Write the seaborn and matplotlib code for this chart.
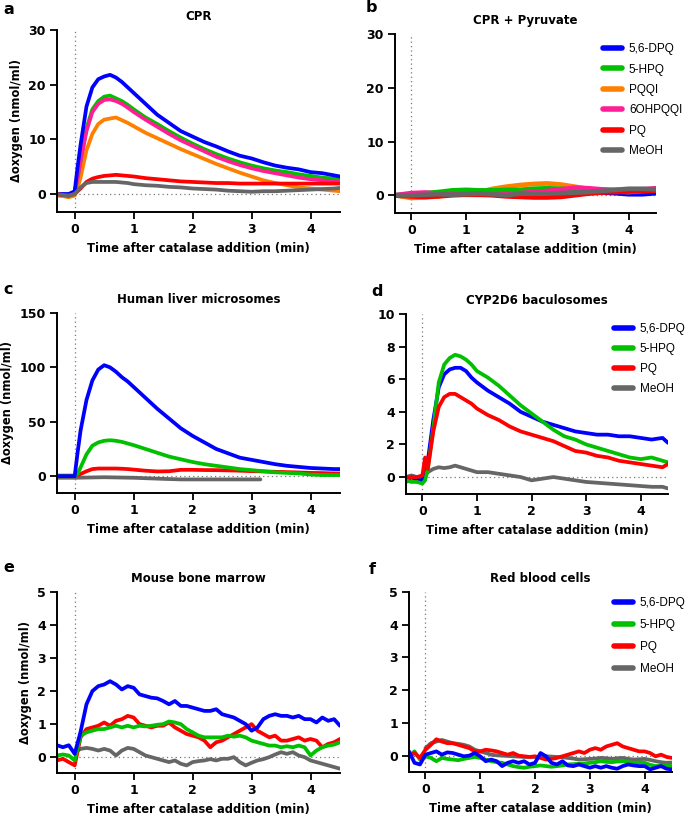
import matplotlib
matplotlib.use("Agg")
import matplotlib.pyplot as plt
from matplotlib.lines import Line2D
import seaborn as sns

# colours used in the figure
BLUE = "#0000ff"
GREEN = "#00c000"
ORANGE = "#ff8000"
PINK = "#ff1e96"
RED = "#ff0000"
GRAY = "#666666"

# time grids (min after catalase addition)
T_SMOOTH = [-0.3, -0.2, -0.1, 0.0, 0.05, 0.1, 0.2, 0.3, 0.4, 0.5, 0.6, 0.7, 0.8, 0.9, 1.0,
            1.2, 1.4, 1.6, 1.8, 2.0, 2.2, 2.4, 2.6, 2.8, 3.0, 3.2, 3.4, 3.6, 3.8, 4.0, 4.2, 4.4, 4.5]
T_B = [-0.3, 0.0, 0.25, 0.5, 0.75, 1.0, 1.25, 1.5, 1.75, 2.0, 2.25, 2.5, 2.75, 3.0, 3.25,
       3.5, 3.75, 4.0, 4.25, 4.5]
T_FINE = [-0.3, -0.2, -0.1, 0.0, 0.1, 0.2, 0.3, 0.4, 0.5, 0.6, 0.7, 0.8, 0.9, 1.0, 1.1, 1.2,
          1.3, 1.4, 1.5, 1.6, 1.7, 1.8, 1.9, 2.0, 2.1, 2.2, 2.3, 2.4, 2.5, 2.6, 2.7, 2.8, 2.9,
          3.0, 3.1, 3.2, 3.3, 3.4, 3.5, 3.6, 3.7, 3.8, 3.9, 4.0, 4.1, 4.2, 4.3, 4.4, 4.5]
T_C_MEOH = [-0.3, 0.0, 0.5, 1.0, 1.5, 1.8, 2.0, 2.5, 3.0, 3.15]

# a: CPR
a_dpq = [0, 0, 0, 0.5, 5, 9, 16, 19.5, 21, 21.5, 21.8, 21.3, 20.5, 19.5, 18.5, 16.5, 14.5, 13,
         11.5, 10.5, 9.5, 8.7, 7.8, 7.0, 6.5, 5.8, 5.2, 4.8, 4.5, 4.0, 3.8, 3.4, 3.2]
a_hpq = [0, -0.2, -0.3, 0.3, 3, 6, 12, 15.5, 17, 17.8, 18, 17.5, 17, 16.3, 15.5, 14, 12.8, 11.5,
         10.3, 9.2, 8.2, 7.3, 6.5, 5.8, 5.2, 4.7, 4.3, 4.0, 3.6, 3.3, 3.0, 2.8, 2.7]
a_pqqi = [-0.3, -0.4, -0.6, -0.3, 1, 3, 8, 11, 12.8, 13.6, 13.8, 14, 13.5, 13, 12.4, 11.2, 10.2,
          9.2, 8.2, 7.3, 6.4, 5.5, 4.7, 3.9, 3.2, 2.5, 2.0, 1.6, 1.2, 1.0, 0.8, 0.6, 0.5]
a_ohpqqi = [0, -0.2, -0.3, 0.3, 3, 6, 11.5, 15, 16.5, 17.2, 17.3, 17, 16.5, 15.8, 15.0, 13.6, 12.3,
            11.0, 9.8, 8.8, 7.8, 6.8, 6.0, 5.3, 4.7, 4.2, 3.8, 3.4, 3.0, 2.7, 2.5, 2.3, 2.2]
a_pq = [0, -0.2, -0.3, 0, 0.5, 1, 2.2, 2.8, 3.1, 3.3, 3.4, 3.5, 3.4, 3.3, 3.2, 2.9, 2.7, 2.5, 2.3,
        2.2, 2.1, 2.0, 2.0, 1.9, 1.9, 1.9, 1.9, 1.9, 1.9, 1.9, 1.9, 1.9, 1.9]
a_meoh = [0, -0.2, -0.3, 0, 0.6, 1.2, 2.0, 2.2, 2.2, 2.2, 2.2, 2.2, 2.1, 2.0, 1.8, 1.6, 1.5, 1.3,
          1.2, 1.0, 0.9, 0.8, 0.6, 0.5, 0.4, 0.5, 0.5, 0.6, 0.7, 0.8, 0.9, 1.0, 1.1]

# b: CPR + Pyruvate
b_dpq = [0, -0.3, 0, 0.1, 0.2, 0.3, 0.4, 0.5, 0.6, 0.7, 0.8, 0.8, 0.7, 0.6, 0.5, 0.5, 0.4, 0.2, 0.2, 0.4]
b_hpq = [0, 0.2, 0.4, 0.6, 0.9, 1.0, 0.9, 0.9, 1.0, 1.0, 1.2, 1.3, 1.2, 1.0, 0.9, 0.8, 0.8, 0.8, 1.0, 1.0]
b_pqqi = [0, -0.5, -0.4, -0.2, 0.2, 0.4, 0.6, 1.2, 1.6, 1.9, 2.1, 2.2, 2.0, 1.6, 1.2, 0.9, 0.7, 0.6, 0.8, 0.9]
b_ohpqqi = [0, 0.4, 0.5, 0.3, 0.2, 0.1, 0.1, 0.2, 0.3, 0.4, 0.6, 0.8, 1.1, 1.4, 1.3, 1.1, 1.0, 1.0, 1.1, 1.3]
b_pq = [0, -0.2, -0.3, -0.2, 0, 0.1, 0.1, 0, -0.2, -0.3, -0.4, -0.4, -0.3, 0, 0.3, 0.5, 0.6, 0.7, 0.8, 0.9]
b_meoh = [0, 0, 0.1, 0.2, 0.1, 0.2, 0.3, 0.2, 0, 0.3, 0.3, 0.3, 0.4, 0.5, 0.6, 0.8, 1.0, 1.2, 1.2, 1.1]

# c: Human liver microsomes
c_dpq = [0, 0, 0, 0, 22, 42, 70, 88, 98, 102, 100, 96, 91, 87, 82, 72, 62, 53, 44, 37, 31, 25, 21,
         17, 15, 13, 11, 9.5, 8.5, 7.5, 7, 6.5, 6.5]
c_hpq = [0, 0, 0, 0, 2, 8, 20, 28, 31, 32.5, 33, 32.5, 31.5, 30, 28.5, 25, 21.5, 18, 15.5, 13, 11,
         9.5, 8, 6.5, 5.5, 4.5, 3.5, 3, 2.5, 1.5, 1, 1, 1]
c_pq = [0.5, 0.5, 0.5, 0.5, 0.8, 2, 4.5, 6.5, 7, 7, 7, 7, 6.8, 6.5, 6, 5, 4.3, 4.5, 5.8, 5.8, 5.6,
        5.5, 5.3, 5, 4.6, 4.3, 4, 3.7, 3.4, 3, 2.8, 2.5, 2.5]
c_meoh = [-1.5, -1.5, -1, -1.5, -2.5, -3, -3, -3, -3, -3]

# d: CYP2D6 baculosomes
d_dpq = [-0.3, 0, -0.2, -0.2, 0.2, 1, 3.5, 5.5, 6.3, 6.6, 6.7, 6.7, 6.5, 6.1, 5.8, 5.3, 4.9, 4.5,
         4.0, 3.7, 3.4, 3.2, 3.0, 2.8, 2.7, 2.6, 2.6, 2.5, 2.5, 2.4, 2.3, 2.4, 2.1]
d_hpq = [-0.2, -0.3, -0.3, -0.4, -0.2, 0.5, 3, 5.8, 6.9, 7.3, 7.5, 7.4, 7.2, 6.9, 6.5, 6.1, 5.6,
         5.0, 4.4, 3.9, 3.4, 2.9, 2.5, 2.3, 2.0, 1.8, 1.6, 1.4, 1.2, 1.1, 1.2, 1.0, 0.9]
d_pq = [0, 0, 0, 0.1, 1.2, 0.5, 2.8, 4.3, 4.9, 5.1, 5.1, 4.9, 4.7, 4.5, 4.2, 3.8, 3.5, 3.1, 2.8,
        2.6, 2.4, 2.2, 1.9, 1.6, 1.5, 1.3, 1.2, 1.0, 0.9, 0.8, 0.7, 0.6, 0.8]
d_meoh = [0, 0.1, 0, -0.1, 0.1, 0.3, 0.5, 0.6, 0.55, 0.6, 0.7, 0.6, 0.5, 0.4, 0.3, 0.3, 0.2, 0.1,
          0, -0.2, -0.1, 0, -0.1, -0.2, -0.3, -0.35, -0.4, -0.45, -0.5, -0.55, -0.6, -0.6, -0.7]

# e: Mouse bone marrow
e_dpq = [0.36, 0.3, 0.36, 0.1, 0.77, 1.6, 2.0, 2.15, 2.2, 2.3, 2.2, 2.05, 2.15, 2.1, 1.9, 1.85,
         1.8, 1.78, 1.7, 1.6, 1.7, 1.55, 1.55, 1.5, 1.45, 1.4, 1.4, 1.45, 1.3, 1.25, 1.2, 1.1,
         1.0, 0.8, 0.9, 1.15, 1.25, 1.3, 1.25, 1.25, 1.2, 1.25, 1.15, 1.15, 1.05, 1.2, 1.1, 1.15, 0.95]
e_hpq = [0.05, 0.08, 0.05, -0.1, 0.65, 0.75, 0.8, 0.85, 0.85, 0.9, 0.95, 0.9, 0.95, 0.9, 0.95,
         0.93, 0.95, 0.98, 1.0, 1.08, 1.05, 1.0, 0.85, 0.75, 0.65, 0.6, 0.6, 0.6, 0.6, 0.65, 0.62,
         0.65, 0.6, 0.5, 0.45, 0.4, 0.35, 0.35, 0.3, 0.33, 0.3, 0.35, 0.3, 0.05, 0.2, 0.3, 0.35, 0.38, 0.45]
e_pq = [-0.1, -0.05, -0.15, -0.25, 0.6, 0.85, 0.9, 0.95, 1.05, 0.95, 1.1, 1.15, 1.25, 1.2, 1.0,
        0.95, 0.9, 0.95, 0.95, 1.05, 0.9, 0.8, 0.7, 0.65, 0.6, 0.5, 0.3, 0.45, 0.5, 0.6, 0.7, 0.8,
        0.9, 1.0, 0.8, 0.7, 0.6, 0.65, 0.5, 0.5, 0.55, 0.6, 0.5, 0.55, 0.5, 0.3, 0.4, 0.45, 0.55]
e_meoh = [0.15, 0.25, 0.28, 0.25, 0.2, 0.25, 0.2, 0.05, 0.2, 0.28, 0.25, 0.15, 0.05, 0, -0.05,
          -0.1, -0.15, -0.1, -0.2, -0.25, -0.15, -0.12, -0.1, -0.06, -0.1, -0.05, -0.05, 0, -0.15,
          -0.25, -0.17, -0.1, -0.06, 0, 0.08, 0.15, 0.1, 0.15, 0.05, 0, -0.1, -0.15, -0.2, -0.25,
          -0.3, -0.35]

# f: Red blood cells
f_dpq = [0.13, -0.22, -0.27, 0.03, 0.08, 0.13, 0.03, 0.1, 0.08, 0.03, -0.02, 0, 0.08, -0.02, -0.17,
         -0.12, -0.17, -0.32, -0.22, -0.17, -0.22, -0.17, -0.27, -0.22, 0.08, -0.02, -0.22, -0.27,
         -0.17, -0.3, -0.32, -0.27, -0.32, -0.37, -0.32, -0.37, -0.32, -0.37, -0.4, -0.32, -0.27,
         -0.3, -0.32, -0.32, -0.42, -0.37, -0.32, -0.4, -0.42]
f_hpq = [-0.02, 0.13, -0.12, -0.02, -0.07, -0.17, -0.07, -0.1, -0.12, -0.14, -0.1, -0.07, -0.04,
         -0.07, -0.12, -0.17, -0.2, -0.22, -0.27, -0.32, -0.35, -0.37, -0.34, -0.32, -0.3, -0.32,
         -0.34, -0.32, -0.3, -0.27, -0.26, -0.25, -0.24, -0.22, -0.2, -0.17, -0.19, -0.2, -0.18,
         -0.17, -0.2, -0.22, -0.21, -0.22, -0.28, -0.32, -0.31, -0.3, -0.32]
f_pq = [-0.02, 0.08, -0.07, 0.18, 0.33, 0.5, 0.43, 0.38, 0.38, 0.33, 0.28, 0.23, 0.13, 0.13, 0.18,
        0.16, 0.13, 0.08, 0.03, 0.08, 0, -0.02, -0.04, -0.02, -0.07, -0.12, -0.1, -0.07, -0.02,
        0.03, 0.08, 0.13, 0.08, 0.18, 0.23, 0.18, 0.28, 0.33, 0.38, 0.28, 0.23, 0.18, 0.13, 0.13,
        0.08, -0.02, 0.03, -0.04, -0.07]
f_meoh = [0.23, 0.38, 0.43, 0.48, 0.43, 0.38, 0.36, 0.33, 0.28, 0.18, 0.13, 0.08, 0.03, 0.01, 0,
          -0.01, -0.02, -0.03, -0.04, -0.04, -0.04, -0.03, -0.02, -0.03, -0.04, -0.05, -0.07,
          -0.09, -0.12, -0.11, -0.1, -0.09, -0.07, -0.08, -0.1, -0.08, -0.07, -0.1, -0.12, -0.11,
          -0.1, -0.13, -0.17, -0.2, -0.22, -0.21]

sns.set_style("ticks")
plt.rcParams["font.family"] = ["DejaVu Sans"]
plt.rcParams["text.color"] = "black"
plt.rcParams["axes.labelcolor"] = "black"

W, H = 685, 818
fig = plt.figure(figsize=(W / 100, H / 100), dpi=100)


def px_axes(x0, y0, x1, y1):
    # axes from pixel box (left, top, right, bottom)
    return fig.add_axes([x0 / W, 1 - y1 / H, (x1 - x0) / W, (y1 - y0) / H])


def style(ax, title, ylim, yticks, ylabel=True):
    ax.axvline(0, color="#777777", ls=(0, (1, 2.5)), lw=0.9, zorder=0)
    ax.axhline(0, color="#777777", ls=(0, (1, 2.5)), lw=0.9, zorder=0)
    ax.set_xlim(-0.3, 4.5)
    ax.set_ylim(*ylim)
    ax.set_xticks([0, 1, 2, 3, 4])
    ax.set_yticks(yticks)
    sns.despine(ax=ax)
    for s in ["left", "bottom"]:
        ax.spines[s].set_linewidth(1.4)
        ax.spines[s].set_color("black")
    ax.tick_params(width=1.3, length=5, labelsize=9, colors="black", pad=3)
    for lab in ax.get_xticklabels() + ax.get_yticklabels():
        lab.set_fontweight("bold")
    ax.set_xlabel("Time after catalase addition (min)", fontsize=8.3, fontweight="bold",
                  labelpad=4, color="black")
    if ylabel:
        ax.set_ylabel("\u0394oxygen (nmol/ml)", fontsize=8.3, fontweight="bold", labelpad=4,
                      color="black")
    else:
        ax.set_ylabel("")
    ax.set_title(title, fontsize=8.5, fontweight="bold", pad=7, color="black")


def draw(ax, series, lw=2.7):
    for t, v, c in series:
        sns.lineplot(x=t, y=v, color=c, lw=lw, ax=ax, legend=False, solid_capstyle="round")


def add_legend(ax, names, colors, x, y, spacing):
    handles = [Line2D([0], [0], color=c, lw=4) for c in colors]
    leg = ax.legend(handles, names, loc="upper left", bbox_to_anchor=(x / W, 1 - y / H),
                    bbox_transform=fig.transFigure, frameon=False,
                    prop={"family": "Liberation Sans", "size": 8.5},
                    handlelength=1.6, handletextpad=0.6, labelspacing=spacing,
                    borderpad=0, borderaxespad=0)
    for txt in leg.get_texts():
        txt.set_color("black")


# panel a
ax = px_axes(57, 30, 340, 212)
draw(ax, [(T_SMOOTH, a_pqqi, ORANGE), (T_SMOOTH, a_hpq, GREEN), (T_SMOOTH, a_ohpqqi, PINK),
          (T_SMOOTH, a_dpq, BLUE), (T_SMOOTH, a_pq, RED), (T_SMOOTH, a_meoh, GRAY)])
style(ax, "CPR", (-3.3, 30), [0, 10, 20, 30])

# panel b
ax = px_axes(395, 34, 656, 213)
draw(ax, [(T_B, b_dpq, BLUE), (T_B, b_pqqi, ORANGE), (T_B, b_hpq, GREEN), (T_B, b_ohpqqi, PINK),
          (T_B, b_pq, RED), (T_B, b_meoh, GRAY)], lw=3.4)
style(ax, "CPR + Pyruvate", (-3.3, 30), [0, 10, 20, 30], ylabel=False)
add_legend(ax, ["5,6-DPQ", "5-HPQ", "PQQI", "6OHPQQI", "PQ", "MeOH"],
           [BLUE, GREEN, ORANGE, PINK, RED, GRAY], 603, 43, 0.72)

# panel c
ax = px_axes(57, 313, 340, 493)
draw(ax, [(T_C_MEOH, c_meoh, GRAY), (T_SMOOTH, c_pq, RED), (T_SMOOTH, c_hpq, GREEN),
          (T_SMOOTH, c_dpq, BLUE)])
style(ax, "Human liver microsomes", (-15.5, 150), [0, 50, 100, 150])

# panel d
ax = px_axes(406, 314, 668, 494)
draw(ax, [(T_SMOOTH, d_meoh, GRAY), (T_SMOOTH, d_dpq, BLUE), (T_SMOOTH, d_hpq, GREEN),
          (T_SMOOTH, d_pq, RED)])
style(ax, "CYP2D6 baculosomes", (-1.04, 10), [0, 2, 4, 6, 8, 10], ylabel=False)
add_legend(ax, ["5,6-DPQ", "5-HPQ", "PQ", "MeOH"], [BLUE, GREEN, RED, GRAY], 614, 323, 0.68)

# panel e
ax = px_axes(57, 592, 340, 773)
draw(ax, [(T_FINE[3:], e_meoh, GRAY), (T_FINE, e_pq, RED), (T_FINE, e_hpq, GREEN),
          (T_FINE, e_dpq, BLUE)])
style(ax, "Mouse bone marrow", (-0.48, 5), [0, 1, 2, 3, 4, 5])

# panel f
ax = px_axes(409, 592, 672, 772)
draw(ax, [(T_FINE[3:], f_meoh, GRAY), (T_FINE, f_hpq, GREEN), (T_FINE, f_pq, RED),
          (T_FINE, f_dpq, BLUE)])
style(ax, "Red blood cells", (-0.5, 5), [0, 1, 2, 3, 4, 5], ylabel=False)
add_legend(ax, ["5,6-DPQ", "5-HPQ", "PQ", "MeOH"], [BLUE, GREEN, RED, GRAY], 614, 597, 0.85)

# panel letters
for letter, x, y in [("a", 3, 10), ("b", 366, 8), ("c", 3, 290), ("d", 371, 292),
                     ("e", 3, 568), ("f", 369, 570)]:
    fig.text(x / W, 1 - y / H, letter, fontsize=11.5, fontweight="bold", va="center", ha="left",
             color="black")

fig.savefig("out.png", dpi=100)
